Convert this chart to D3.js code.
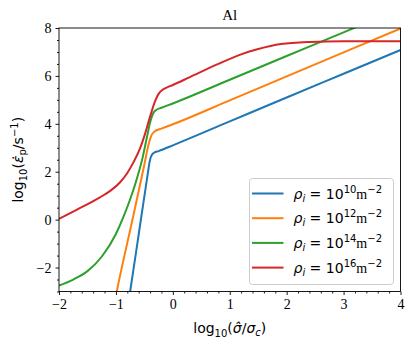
<!DOCTYPE html>
<html>
<head>
<meta charset="utf-8">
<script src="https://cdn.jsdelivr.net/npm/d3@7"></script>
<style>
  body { margin: 0; background: #fff; }
  .tick text { font-family: "Liberation Serif", serif; font-size: 14px; fill: #000; }
  .lab { font-family: "DejaVu Sans", sans-serif; font-size: 14px; fill: #000; }
</style>
</head>
<body>
<svg id="chart" width="415" height="349"></svg>
<script>
// curves, [log10(sigma/sigma_c), log10(strain rate)]
const blue = [[-0.77, -3.3], [-0.75, -3], [-0.6, -0.62], [-0.45, 1.76], [-0.40, 2.5], [-0.37, 2.7],
  [-0.33, 2.79], [-0.25, 2.86], [0, 3.1], [1, 4.1], [2, 5.1], [3, 6.09], [4, 7.08]];
const orange = [[-1.01, -3.3], [-0.985, -3], [-0.7, 0.1], [-0.5, 2.3], [-0.42, 3.2], [-0.37, 3.55],
  [-0.32, 3.68], [-0.2, 3.8], [0, 3.98], [1, 4.98], [2, 5.98], [3, 6.98], [4, 7.98]];
const green = [[-2, -2.75], [-1.75, -2.5], [-1.5, -2.15], [-1.25, -1.55], [-1.0, -0.6], [-0.87, 0.1],
  [-0.75, 0.85], [-0.66, 1.49], [-0.53, 2.6], [-0.45, 3.5], [-0.40, 4.05], [-0.35, 4.42], [-0.30, 4.57],
  [-0.2, 4.67], [0, 4.85], [1, 5.84], [2, 6.83], [3, 7.82], [3.2, 8.02], [4, 8.8]];
const red = [[-2, 0.03], [-1.7, 0.4], [-1.28, 0.93], [-1.1, 1.2], [-0.93, 1.55], [-0.8, 1.95],
  [-0.69, 2.4], [-0.58, 2.95], [-0.49, 3.57], [-0.40, 4.3], [-0.31, 4.96], [-0.25, 5.25], [-0.18, 5.42],
  [-0.1, 5.52], [0, 5.62], [0.3, 5.95], [0.8, 6.5], [1.2, 6.9], [1.5, 7.12], [1.9, 7.33], [2.4, 7.42],
  [3, 7.45], [4, 7.45]];

const series = [blue, orange, green, red];
const colors = ["#1f77b4", "#ff7f0e", "#2ca02c", "#d62728"];
const rhoExp = ["10", "12", "14", "16"];

const xTicks = [-2, -1, 0, 1, 2, 3, 4];
const yTicks = [-2, 0, 2, 4, 6, 8];

let m = {left: 59, right: 415 - 400.5, top: 28, bottom: 349 - 291.5};
let w = 415 - m.left - m.right, h = 349 - m.top - m.bottom;

let svg = d3.select("#chart");
let g = svg.append("g").attr("transform", "translate(" + m.left + "," + m.top + ")");

let x = d3.scaleLinear().domain([-2, 4]).range([0, w]);
let y = d3.scaleLinear().domain([-3, 8]).range([h, 0]);

g.append("clipPath").attr("id", "clip")
    .append("rect").attr("width", w).attr("height", h);

let line = d3.line().x(d => x(d[0])).y(d => y(d[1])).curve(d3.curveMonotoneX);

series.forEach(function (s, i) {
    g.append("path")
        .datum(s)
        .attr("clip-path", "url(#clip)")
        .attr("fill", "none")
        .attr("stroke", colors[i])
        .attr("stroke-width", 2)
        .attr("d", line);
});

// minor ticks
let xMinor = d3.range(-2, 4.001, 0.2).filter(v => Math.abs(v - Math.round(v)) > 1e-6);
let yMinor = d3.range(-3, 8.001, 0.5).filter(v => Math.abs(v % 2) > 1e-6);

g.append("g").attr("transform", "translate(0," + h + ")")
    .call(d3.axisBottom(x).tickValues(xMinor).tickSize(2).tickFormat(""))
    .call(a => a.select(".domain").remove());
g.append("g")
    .call(d3.axisLeft(y).tickValues(yMinor).tickSize(2).tickFormat(""))
    .call(a => a.select(".domain").remove());

g.append("g").attr("transform", "translate(0," + h + ")")
    .call(d3.axisBottom(x).tickValues(xTicks).tickSize(3.5).tickPadding(4).tickFormat(d3.format("d")))
    .call(a => a.select(".domain").remove());
g.append("g")
    .call(d3.axisLeft(y).tickValues(yTicks).tickSize(3.5).tickPadding(4).tickFormat(d3.format("d")))
    .call(a => a.select(".domain").remove());

g.selectAll(".tick line").attr("stroke", "#000").attr("stroke-width", 0.9);

g.append("rect").attr("width", w).attr("height", h)
    .attr("fill", "none").attr("stroke", "#000").attr("stroke-width", 0.9);

// title
svg.append("text").attr("x", m.left + w / 2).attr("y", 20)
    .attr("text-anchor", "middle")
    .style("font-family", "Liberation Serif, serif").style("font-size", "15px")
    .text("Al");

// x label
let xl = svg.append("text").attr("class", "lab")
    .attr("x", m.left + w / 2).attr("y", 333).attr("text-anchor", "middle");
xl.append("tspan").text("log");
xl.append("tspan").attr("dy", 4).style("font-size", "10px").text("10");
xl.append("tspan").attr("dy", -4).text("(");
xl.append("tspan").style("font-style", "italic").text("σ\u0302");
xl.append("tspan").text("/");
xl.append("tspan").style("font-style", "italic").text("σ");
xl.append("tspan").attr("dy", 3).style("font-size", "10px").style("font-style", "italic").text("c");
xl.append("tspan").attr("dy", -3).text(")");

// y label
let yl = svg.append("text").attr("class", "lab")
    .attr("transform", "translate(23," + (m.top + h / 2) + ") rotate(-90)")
    .attr("text-anchor", "middle");
yl.append("tspan").text("log");
yl.append("tspan").attr("dy", 4).style("font-size", "10px").text("10");
yl.append("tspan").attr("dy", -4).text("(");
yl.append("tspan").style("font-style", "italic").text("ε\u0307");
yl.append("tspan").attr("dy", 3).style("font-size", "10px").text("p");
yl.append("tspan").attr("dy", -3).text("/s");
yl.append("tspan").attr("dy", -5).style("font-size", "10px").text("−1");
yl.append("tspan").attr("dy", 5).text(")");

// legend
let lg = svg.append("g").attr("transform", "translate(249.5,178.5)");
lg.append("rect").attr("width", 144).attr("height", 106).attr("rx", 3)
    .attr("fill", "#fff").attr("fill-opacity", 0.8)
    .attr("stroke", "#cccccc").attr("stroke-width", 1);

rhoExp.forEach(function (e, i) {
    let yy = 15 + i * 24.7;
    lg.append("line").attr("x1", 2.5).attr("x2", 34).attr("y1", yy).attr("y2", yy)
        .attr("stroke", colors[i]).attr("stroke-width", 2);
    let t = lg.append("text").attr("class", "lab").attr("x", 44).attr("y", yy + 5);
    t.append("tspan").style("font-style", "italic").text("ρ");
    t.append("tspan").attr("dy", 3).style("font-size", "10px").style("font-style", "italic").text("i");
    t.append("tspan").attr("dy", -3).text(" = 10");
    t.append("tspan").attr("dy", -6).style("font-size", "10px").text(e);
    t.append("tspan").attr("dy", 6).style("font-family", "Liberation Serif, serif").text("m");
    t.append("tspan").attr("dy", -6).style("font-size", "10px").text("−2");
});
</script>
</body>
</html>
